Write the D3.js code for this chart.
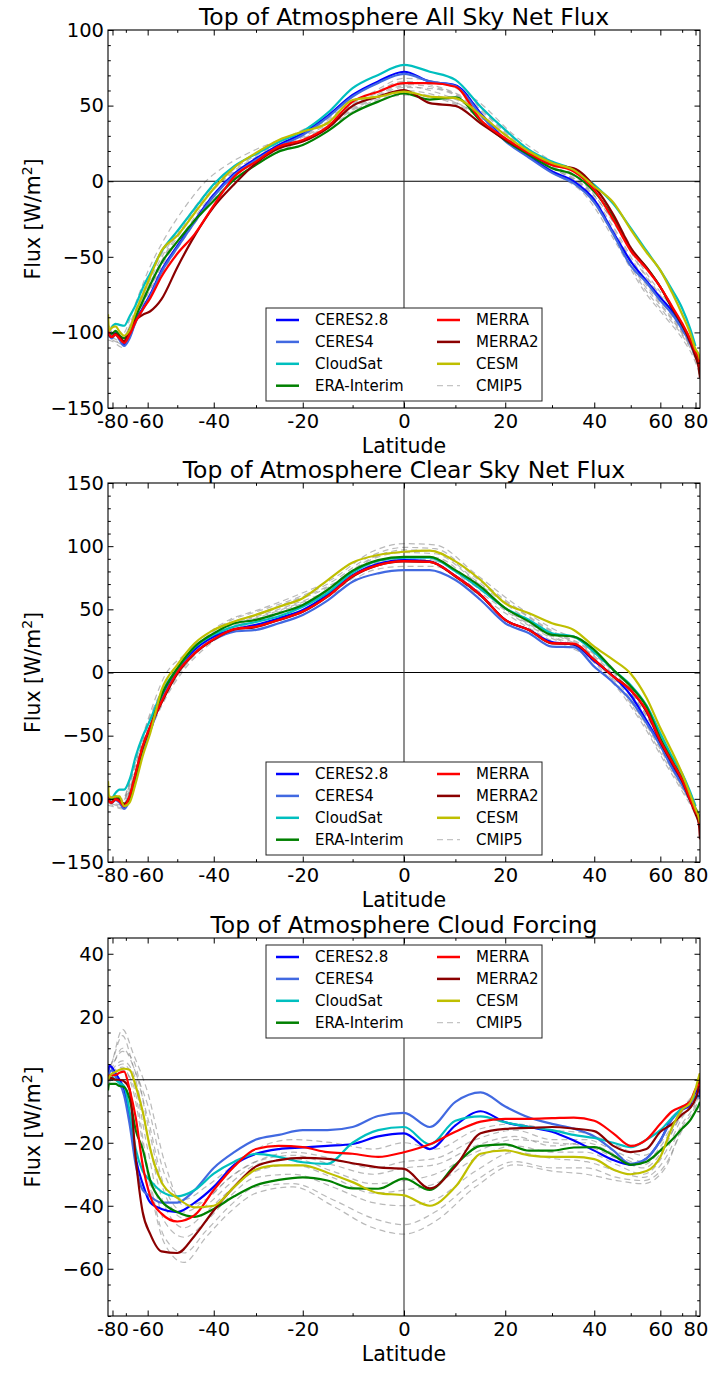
<!DOCTYPE html>
<html><head><meta charset="utf-8">
<script src="https://cdn.jsdelivr.net/npm/d3@7"></script>
<style>body{margin:0;background:#fff} text{font-family:"DejaVu Sans",sans-serif;fill:#000}</style>
</head><body><svg id="c" width="719" height="1373"></svg>
<script>
// ---------- data ----------
const lats = [-89.5,-85,-81,-77,-74,-71,-68,-65,-62,-59,-55,-50,-45,-40,-35,-30,-25,-20,-15,-10,-5,0,5,10,15,20,25,30,35,40,45,50,55,60,65,70,75,80,85,89.5];
const cmipLats = [-89.5,-80,-72,-66,-60,-54,-48,-42,-36,-30,-22,-14,-6,0,6,14,22,30,38,46,54,62,70,80,89.5];
const seriesNames = ["CERES2.8","CERES4","CloudSat","ERA-Interim","MERRA","MERRA2","CESM"];
const seriesColors = ["#0000ff","#4169e1","#00bfbf","#008000","#ff0000","#8b0000","#bfbf00"];
const xMajorTicks = [-80,-60,-40,-20,0,20,40,60,80];
const xTickLabels = ["-80","-60","-40","-20","0","20","40","60","80"];
const xMinorTicks = [-70,-50,-30,-10,10,30,50,70];

// Panel 1: all-sky net flux
const allCeres28 = [-97,-100,-103,-100.5,-104,-108,-103,-92,-84,-75,-59,-43,-26,-9,5,15,24,31.7,43,57,66,72.4,65.8,63.5,45,27.3,16.3,6.4,-0.2,-12.4,-34,-53,-66,-77,-86,-96,-106,-115,-121,-126];
const allCeres4 = [-98,-101,-104,-101,-105,-109,-104,-93,-85,-76,-60,-44,-27,-10,4,14,23,30.5,42,56,65,71,66,63,44,26.5,15.5,5.5,-1.5,-14,-35,-56,-67,-79,-88,-98,-107,-116,-122,-127];
const allCloudSat = [null,null,-96.5,-94.3,-95,-95.6,-89.5,-81.8,-70.7,-60.8,-46.5,-33,-18,-2,10,18,26,33,45,61.5,70.3,77,72.4,67,49.3,33.9,20.7,13,7.5,-2.4,-15,-31,-46,-59,-72,-84,-97,-109,null,null];
const allEra = [-98,-100,-101,-99,-102,-104,-99,-89.5,-79.6,-68.5,-54,-40,-26,-13,1,10.8,19.6,24,33,45,52.6,58,54,55.5,40,27,17.4,8.6,4.2,-6.9,-24,-45,-57,-70,-84,-95,-105,-115,-122,-128];
const allMerra = [-96,-101,-103,-101.6,-104,-107,-101.6,-92.8,-85,-77.3,-63,-48,-35,-16,3,13,22.9,27.3,36,52.6,59.2,64.8,64.8,62.5,40.5,28.4,18.5,10.8,6.4,-5.7,-25.6,-46,-58,-70,-83,-94,-104,-113,-118,-123];
const allMerra2 = [-99,-102,-103,-101,-103,-106,-98.3,-91.7,-88.4,-86,-78,-57,-36,-17,-2,12,21.8,26.2,35,49.8,55.9,60.3,51.6,49.8,38.3,27.3,18.5,10.8,8.6,-3.5,-22,-44,-57,-70,-84,-95,-106,-116,-124,-130];
const allCesm = [-88,-99,-97,-96,-99.4,-102.2,-98.3,-86.2,-75.2,-63,-46,-36,-21,-5,9,18.7,27.3,32.8,38.3,53.7,55.9,59.2,55.9,55,43.8,30.6,19.6,12,7.5,-3.5,-14,-32,-47,-59,-74,-88,-100,-111,-115,-118];
const allCmip1 = [-98,-100,-105,-88,-66,-45,-27,-8,6,17,29,42,57,64,62,50,27,10,-4,-30,-60,-80,-97,-113,-122];
const allCmip2 = [-103,-104,-108,-95,-75,-55,-36,-16,1,13,25,38,53,58,56,45,23,7,-8,-38,-68,-86,-101,-117,-126];
const allCmip3 = [-95,-98,-101,-84,-60,-38,-18,0,12,21,31,44,59,68,66,54,30,13,-2,-27,-58,-78,-95,-111,-120];
const allCmip4 = [-105,-106,-110,-97,-78,-58,-38,-18,-1,11,24,37,52,57,55,44,22,6,-10,-42,-72,-90,-104,-120,-129];
const allCmip5 = [-100,-101,-103,-90,-70,-50,-31,-11,4,15,27,40,55,62,61,49,26,9,-5,-34,-64,-83,-99,-115,-124];
const allCmip6 = [-97,-103,-106,-93,-72,-49,-29,-10,5,16,28,41,56,63,59,47,25,9,-6,-36,-66,-85,-100,-116,-125];
const allCmip7 = [-102,-99,-104,-91,-69,-47,-28,-9,7,18,30,43,58,66,63,51,28,11,-3,-31,-61,-81,-98,-113,-122];
const allCmip8 = [-99,-105,-107,-94,-74,-53,-34,-14,2,14,26,39,54,60,57,45,23,7,-7,-40,-70,-88,-102,-118,-127];

// Panel 2: clear-sky net flux
const clrCeres28 = [-98,-101,-103,-100.5,-102,-107,-100,-82,-61,-45,-21,1,18,28.4,34.3,37.7,43,49.5,61.4,77,86,89,88,76.4,61.4,41.6,33.7,24,22,9,-3,-18,-38,-57,-75,-88,-100,-109,-114,-117];
const clrCeres4 = [-98,-101,-103,-101,-103,-108,-101,-83,-62,-46,-22,0,16,26,32.4,33.7,39,45.6,56.9,71.9,78.5,81,81,73.2,57.4,39,31.1,20.5,20,4.7,-8,-22,-40,-58,-76,-89,-101,-110,-114,-118];
const clrCloudSat = [null,null,-100.5,-95.3,-92.7,-92.7,-84.8,-66.3,-50.6,-37.4,-16,3,20,30,36.3,40,44.5,52,63,79,88.5,91,91,80,66,50.9,41.6,31.1,28.4,16,2,-10,-26,-48,-67,-80,-94,-106,null,null];
const clrEra = [-98,-100,-100.5,-98,-100,-104,-100,-82,-60,-43,-18,3,20.5,31,39,41.6,46.9,53.5,65.3,80.5,89,91.6,91.6,81,67.9,50.9,40.3,29.8,28.4,17.9,2.1,-11,-27,-52,-70,-84,-98,-108,-114,-120];
const clrMerra = [-98,-102,-103,-100.5,-102,-106,-98,-79.5,-58.5,-42.7,-23,0,15.3,26.4,34.3,36.3,41.6,48.2,60,76.5,85,88.2,87.5,76.4,61.4,41.6,33.7,23.2,22.8,10,-3.2,-14,-30,-54,-71,-85,-100,-110,-115,-120];
const clrMerra2 = [-99,-102,-103,-100,-101,-104,-98,-79.5,-59,-43,-24,-1,15,26,34,36,41.6,48,60,76,85,88,87.5,76,61,41.6,33.7,23,22.5,10,-3,-14,-31,-55,-72,-86,-101,-112,-120,-132];
const clrCesm = [-86,-98,-99,-98,-98,-105.8,-103,-87.4,-66.3,-47.9,-14,6,23.2,33.7,40.3,45.6,52.1,58.8,73,87,93,95.6,96.4,88,73.2,54.8,46.9,39,33.7,20.5,10,-1,-20,-44,-63,-80,-96,-108,-115,-119];
const clrCmip1 = [-98,-100,-101,-76,-40,-10,12,28,41,48,58,72,93,99,98,75,52,33,20,-2,-30,-60,-86,-106,-115];
const clrCmip2 = [-103,-105,-107,-84,-50,-20,4,22,35,42,52,64,84,88,88,66,44,27,15,-10,-40,-70,-92,-111,-120];
const clrCmip3 = [-96,-99,-100,-74,-38,-3,14,30,42,49,60,74,96,102,101,78,54,35,22,0,-26,-56,-83,-104,-114];
const clrCmip4 = [-105,-106,-108,-86,-52,-22,2,20,33,40,50,62,81,84,84,63,42,25,13,-12,-42,-72,-94,-113,-122];
const clrCmip5 = [-100,-101,-103,-79,-44,-14,9,26,38,45,56,69,90,95,94,72,49,31,18,-5,-34,-64,-88,-108,-117];
const clrCmip6 = [-99,-103,-105,-82,-47,-17,6,24,37,44,54,66,86,91,91,69,46,29,17,-7,-36,-66,-90,-109,-119];
const clrCmip7 = [-101,-98,-102,-77,-42,-12,11,27,39,46,57,70,91,97,96,73,51,32,19,-3,-31,-61,-87,-107,-116];
const clrCmip8 = [-97,-104,-106,-83,-48,-18,5,23,36,43,53,65,85,90,89,68,45,28,16,-9,-38,-68,-91,-110,-121];

// Panel 3: cloud forcing
const cfCeres28 = [1,4.5,4,2,0,-3,-12,-25,-33,-39,-41,-42,-39,-34,-27,-23.5,-22,-21.5,-21,-20.4,-18,-17,-22,-14.5,-10,-13.5,-15,-16.5,-19.3,-22.5,-25.5,-27,-25,-19.3,-12,-9.5,-8,-4,-3,-5];
const cfCeres4 = [0,2,3,1,-1,-5,-14,-27,-35,-37,-39,-39,-35,-28,-23,-19,-17.5,-16,-16,-15,-11.5,-10.5,-15,-7,-4,-8.5,-12,-14,-15.5,-18,-22.4,-26.7,-25,-19.3,-12.5,-9,-7,-6,-5,-6];
const cfCloudSat = [null,null,1,0,-1,-2,-10,-22,-29,-32,-35.5,-37,-35,-29.8,-26,-23.5,-24.5,-26.2,-26.7,-20,-16,-15,-20.5,-13,-11.6,-13.5,-15,-16,-17.5,-18.5,-20,-21.4,-19,-16,-12,-9,-7,-5,null,null];
const cfEra = [-3.4,-1.3,-1.3,-1.3,-2,-2.3,-6,-16,-22,-32,-38.5,-42,-43.5,-41,-37,-33.5,-31.8,-31,-32,-34.5,-34.6,-31.4,-35,-27,-21,-20.5,-22.5,-22.5,-21.5,-21.4,-24,-27,-26,-22.5,-19,-15.5,-13,-10,-8,-7];
const cfMerra = [0.8,1.4,1.4,1.5,2.2,2.6,-3,-12,-27,-37,-42.5,-45,-43,-35,-27.5,-22,-21,-21.4,-23,-23.5,-24.5,-23,-20.5,-16.5,-13.3,-12.4,-12.4,-12.2,-12,-13,-17,-21,-19,-14,-10,-8.5,-7,-3,-1.5,-2];
const cfMerra2 = [0,0.5,0.5,0,0,-0.5,-3,-25,-42,-49,-54.5,-55,-49.5,-41.5,-34,-27.5,-25.5,-24.8,-25.1,-26.5,-27.8,-28.3,-34.5,-27.5,-17,-15.6,-15.3,-15,-15.5,-16.3,-21,-23,-22,-16.5,-14,-11,-9,-6,-2,2];
const cfCesm = [0,0.8,1.9,2.5,3.2,3.5,3.2,-2,-10,-22,-32.5,-37.5,-40.5,-40,-34,-28.5,-27.2,-27.2,-29.5,-32.5,-36,-36.7,-40,-34,-23.5,-22.4,-24,-24.5,-24.5,-25.2,-28.5,-30,-29,-24.5,-15,-9.5,-7.5,-3,1,2];
const cfCmip1 = [2,6,14,4,-8,-30,-38,-34,-28,-22,-19,-20,-22,-20,-22,-16,-14,-16,-17,-21,-24,-18,-9,-3,1];
const cfCmip2 = [-2,1,3,-2,-28,-50,-55,-48,-40,-34,-33,-38,-44,-46,-42,-32,-26,-28,-28,-31,-32,-27,-16,-9,-4];
const cfCmip3 = [1,6,16,8,-4,-26,-40,-38,-31,-26,-24,-27,-30,-28,-27,-21,-18,-21,-20,-24,-27,-20,-11,-5,0];
const cfCmip4 = [-1,2,4,-4,-30,-52,-58,-50,-42,-36,-34,-40,-47,-49,-45,-34,-27,-29,-30,-32,-33,-28,-15,-8,-3];
const cfCmip5 = [0,3,6,2,-18,-40,-47,-42,-35,-29,-27,-31,-36,-35,-33,-25,-21,-23,-23,-27,-30,-23,-12,-6,-1];
const cfCmip6 = [3,5,9,6,-14,-36,-44,-40,-33,-27,-25,-29,-33,-32,-30,-23,-19,-20,-21,-25,-28,-21,-10,-4,0];
const cfCmip7 = [-1,2,5,0,-22,-45,-50,-45,-37,-31,-30,-34,-39,-40,-38,-29,-23,-25,-26,-29,-31,-25,-14,-7,-2];
const cfCmip8 = [0,4,10,4,-12,-34,-42,-38,-31,-26,-23,-25,-28,-26,-25,-19,-16,-19,-19,-23,-26,-19,-10,-4,0];

// ---------- chart ----------
const svg = d3.select("#c");
const X0 = 108, X1 = 700;
const x = d3.scaleLinear().domain([-1, 1]).range([X0, X1]);
const sinLat = l => Math.sin(l * Math.PI / 180);
const fmtY = d => d < 0 ? "\u2212" + Math.abs(d) : String(d);

const panels = [
  {top: 30, bottom: 408, domain: [-150, 100], majors: [-150,-100,-50,0,50,100], minorStep: 10,
   title: "Top of Atmosphere All Sky Net Flux", legendTop: 308,
   series: [allCeres28, allCeres4, allCloudSat, allEra, allMerra, allMerra2, allCesm],
   cmip: [allCmip1, allCmip2, allCmip3, allCmip4, allCmip5, allCmip6, allCmip7, allCmip8]},
  {top: 483, bottom: 862, domain: [-150, 150], majors: [-150,-100,-50,0,50,100,150], minorStep: 10,
   title: "Top of Atmosphere Clear Sky Net Flux", legendTop: 762,
   series: [clrCeres28, clrCeres4, clrCloudSat, clrEra, clrMerra, clrMerra2, clrCesm],
   cmip: [clrCmip1, clrCmip2, clrCmip3, clrCmip4, clrCmip5, clrCmip6, clrCmip7, clrCmip8]},
  {top: 938, bottom: 1316, domain: [-75, 45], majors: [-60,-40,-20,0,20,40], minorStep: 5,
   title: "Top of Atmosphere Cloud Forcing", legendTop: 945,
   series: [cfCeres28, cfCeres4, cfCloudSat, cfEra, cfMerra, cfMerra2, cfCesm],
   cmip: [cfCmip1, cfCmip2, cfCmip3, cfCmip4, cfCmip5, cfCmip6, cfCmip7, cfCmip8]}
];

const drawOrder = [0, 1, 2, 3, 5, 4, 6];

panels.forEach((p, pi) => {
  const y = d3.scaleLinear().domain(p.domain).range([p.bottom, p.top]);
  const g = svg.append("g");
  const clipId = "clip" + pi;
  svg.append("clipPath").attr("id", clipId).append("rect")
    .attr("x", X0).attr("y", p.top).attr("width", X1 - X0).attr("height", p.bottom - p.top);

  const plot = g.append("g").attr("clip-path", `url(#${clipId})`);

  const mkLine = () => d3.line()
    .defined(d => d[1] !== null && d[1] !== undefined)
    .x(d => x(sinLat(d[0])))
    .y(d => y(d[1]))
    .curve(d3.curveMonotoneX);

  // CMIP5 dashed
  p.cmip.forEach(arr => {
    const pts = cmipLats.map((l, i) => [l, arr[i]]);
    plot.append("path").attr("d", mkLine()(pts))
      .attr("fill", "none").attr("stroke", "#808080").attr("stroke-opacity", 0.55)
      .attr("stroke-width", 1.2).attr("stroke-dasharray", "6,4");
  });

  // zero lines
  plot.append("line").attr("x1", X0).attr("x2", X1).attr("y1", y(0)).attr("y2", y(0))
    .attr("stroke", "#000").attr("stroke-width", 1.1);
  plot.append("line").attr("x1", x(0)).attr("x2", x(0)).attr("y1", p.top).attr("y2", p.bottom)
    .attr("stroke", "#333").attr("stroke-width", 1.1);

  // colored series
  drawOrder.forEach(si => {
    const arr = p.series[si];
    const pts = lats.map((l, i) => [l, arr[i]]);
    plot.append("path").attr("d", mkLine()(pts))
      .attr("fill", "none").attr("stroke", seriesColors[si]).attr("stroke-width", 2.2)
      .attr("stroke-linejoin", "round");
  });

  // axes
  const minorY = d3.range(p.domain[0], p.domain[1] + 0.001, p.minorStep).filter(v => !p.majors.includes(v));
  const styleAxis = sel => {
    sel.select(".domain").remove();
    sel.selectAll(".tick line").attr("stroke", "#000");
    sel.selectAll(".tick text").attr("font-size", "19.5px").attr("font-family", "DejaVu Sans").attr("fill", "#000");
  };
  g.append("g").attr("transform", `translate(0,${p.bottom})`)
    .call(d3.axisBottom(x).tickValues(xMajorTicks.map(sinLat)).tickSize(-5.5).tickPadding(6)
      .tickFormat((d, i) => xTickLabels[i])).call(styleAxis);
  g.append("g").attr("transform", `translate(0,${p.bottom})`)
    .call(d3.axisBottom(x).tickValues(xMinorTicks.map(sinLat)).tickSize(-2.8).tickFormat("")).call(styleAxis);
  g.append("g").attr("transform", `translate(0,${p.top})`)
    .call(d3.axisTop(x).tickValues(xMajorTicks.map(sinLat)).tickSize(-5.5).tickFormat("")).call(styleAxis);
  g.append("g").attr("transform", `translate(0,${p.top})`)
    .call(d3.axisTop(x).tickValues(xMinorTicks.map(sinLat)).tickSize(-2.8).tickFormat("")).call(styleAxis);
  g.append("g").attr("transform", `translate(${X0},0)`)
    .call(d3.axisLeft(y).tickValues(p.majors).tickSize(-5.5).tickPadding(4).tickFormat(fmtY)).call(styleAxis);
  g.append("g").attr("transform", `translate(${X0},0)`)
    .call(d3.axisLeft(y).tickValues(minorY).tickSize(-2.8).tickFormat("")).call(styleAxis);
  g.append("g").attr("transform", `translate(${X1},0)`)
    .call(d3.axisRight(y).tickValues(p.majors).tickSize(-5.5).tickFormat("")).call(styleAxis);
  g.append("g").attr("transform", `translate(${X1},0)`)
    .call(d3.axisRight(y).tickValues(minorY).tickSize(-2.8).tickFormat("")).call(styleAxis);

  // frame
  g.append("rect").attr("x", X0).attr("y", p.top).attr("width", X1 - X0).attr("height", p.bottom - p.top)
    .attr("fill", "none").attr("stroke", "#000").attr("stroke-width", 1.1);

  // title
  g.append("text").attr("x", (X0 + X1) / 2).attr("y", p.top - 5).attr("text-anchor", "middle")
    .attr("font-size", "23.5px").text(p.title);
  // x label
  g.append("text").attr("x", (X0 + X1) / 2).attr("y", p.bottom + 45).attr("text-anchor", "middle")
    .attr("font-size", "20.5px").text("Latitude");
  // y label
  const yl = g.append("text").attr("transform", `translate(40,${(p.top + p.bottom) / 2}) rotate(-90)`)
    .attr("text-anchor", "middle").attr("font-size", "20.5px");
  yl.append("tspan").text("Flux [W/m");
  yl.append("tspan").attr("dy", -8).attr("font-size", "14px").text("2");
  yl.append("tspan").attr("dy", 8).text("]");

  // legend
  const lg = g.append("g");
  lg.append("rect").attr("x", 266).attr("y", p.legendTop).attr("width", 276).attr("height", 93)
    .attr("fill", "#fff").attr("stroke", "#222").attr("stroke-width", 1);
  const entries = seriesNames.map((n, i) => ({name: n, color: seriesColors[i], dash: null}));
  entries.push({name: "CMIP5", color: "#c4c4c4", dash: "6,4"});
  entries.forEach((e, i) => {
    const col = i < 4 ? 0 : 1, row = i % 4;
    const cy = p.legendTop + 12 + row * 21.9;
    const lx = col === 0 ? 276 : 437, tx = col === 0 ? 315 : 476;
    lg.append("line").attr("x1", lx).attr("x2", lx + 23).attr("y1", cy).attr("y2", cy)
      .attr("stroke", e.color).attr("stroke-width", e.dash ? 1.3 : 2.5)
      .attr("stroke-dasharray", e.dash);
    lg.append("text").attr("x", tx).attr("y", cy).attr("dy", "0.36em").attr("font-size", "15px").text(e.name);
  });
});
</script>
</body></html>
